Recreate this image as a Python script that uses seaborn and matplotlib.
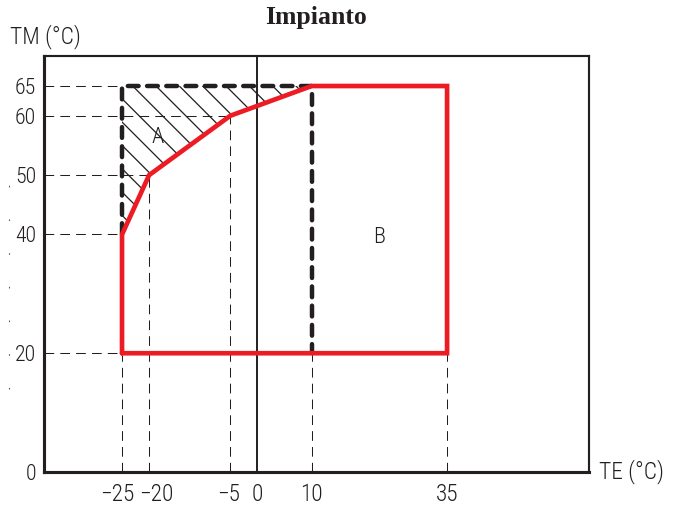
import matplotlib
matplotlib.use("Agg")
import matplotlib.pyplot as plt
from matplotlib.transforms import ScaledTranslation
import seaborn as sns
import pandas as pd

# operating envelope (TE outdoor temp, TM water temp)
te_env = [-25, -25, -20, -5, 10, 35, 35, -25]
tm_env = [20, 40, 50, 60, 65, 65, 20, 20]

# dashed boundary of zone A
te_a = [-25, -25, 10, 10]
tm_a = [40, 65, 65, 20]

# hatched zone A (between dashed boundary and red curve)
te_hatch = [-25, -25, 10, -5, -20]
tm_hatch = [40, 65, 65, 60, 50]

# guide lines
h_guide_tm = [65, 60, 50, 40, 20]
h_guide_te = [-25, -5, -20, -25, -25]
v_guide_te = [-25, -20, -5, 10, 35]
v_guide_tm = [20, 50, 60, 20, 20]

x_ticks = [-25, -20, -5, 0, 10, 35]
x_labels = ["\u221225", "\u221220", "\u22125", "0", "10", "35"]
x_label_shift = [-5, 7, -2, 0, 0, 0]  # px, as placed in the drawing
y_ticks = [0, 20, 40, 50, 60, 65]

BLACK = "#231f20"
RED = "#ed1c24"
DPI = 70  # low dpi so the hatch spacing matches the drawing
SANS = ["Roboto Condensed", "Liberation Sans Narrow", "DejaVu Sans"]

sns.set_theme(style="white")
plt.rcParams["font.family"] = SANS
plt.rcParams["font.weight"] = "light"
plt.rcParams["hatch.linewidth"] = 1.3
plt.rcParams["hatch.color"] = BLACK

fig = plt.figure(figsize=(674.01 / DPI, 508.01 / DPI), dpi=DPI)
ax = fig.add_axes([0.0653, 0.0709, 0.8086, 0.8189])
ax.set_xlim(-39.4, 61.2)
ax.set_ylim(0, 70.06)

# thin dashed guides
for tm, te in zip(h_guide_tm, h_guide_te):
    ax.plot([-39.4, te], [tm, tm], color=BLACK, lw=1.05, ls=(0, (9.5, 6)), zorder=1)
for te, tm in zip(v_guide_te, v_guide_tm):
    ax.plot([te, te], [0, tm], color=BLACK, lw=1.05, ls=(0, (9.5, 6)), zorder=1)

# hatching of zone A
ax.fill(te_hatch, tm_hatch, facecolor="none", edgecolor=BLACK, lw=0, hatch="\\", zorder=2)

# axis at TE = 0
ax.axvline(0, color=BLACK, lw=2.0, zorder=3)

# dashed zone A border
ax.plot(te_a, tm_a, color=BLACK, lw=4.6, ls=(0, (2.4, 1.9)),
        dash_capstyle="round", solid_joinstyle="miter", zorder=4)

# red envelope
env = pd.DataFrame({"TE": te_env, "TM": tm_env})
sns.lineplot(data=env, x="TE", y="TM", sort=False, estimator=None,
             color=RED, lw=4.8, ax=ax, zorder=5)
ax.lines[-1].set_solid_joinstyle("miter")

ax.text(-18.5, 56.3, "A", fontsize=23, color=BLACK, ha="center", va="center", zorder=6)
ax.text(22.5, 39.5, "B", fontsize=23, color=BLACK, ha="center", va="center", zorder=6)

# frame
for side, w in {"left": 3.2, "bottom": 3.2, "top": 2.2, "right": 2.2}.items():
    ax.spines[side].set_visible(True)
    ax.spines[side].set_color(BLACK)
    ax.spines[side].set_linewidth(w)

ax.set_xticks(x_ticks)
ax.set_yticks(y_ticks)
ax.set_xticklabels(x_labels)
ax.set_yticklabels([str(v) for v in y_ticks])
ax.tick_params(axis="both", length=0, colors=BLACK)
ax.tick_params(axis="x", pad=11, labelsize=24)
ax.tick_params(axis="y", pad=8, labelsize=22.5)
for lbl, dx in zip(ax.get_xticklabels(), x_label_shift):
    lbl.set_transform(lbl.get_transform() + ScaledTranslation(dx / DPI, 0, fig.dpi_scale_trans))
ax.set_xlabel("")
ax.set_ylabel("")

# small dotted marks left of the y labels
ax.plot([-0.064, -0.064], [0.20, 0.76], transform=ax.transAxes, clip_on=False,
        color="#555555", lw=1.1, ls=(0, (1.5, 30)))

fig.text(0.015, 0.928, "TM (°C)", fontsize=24, color=BLACK, ha="left", va="center")
fig.text(0.888, 0.071, "TE (°C)", fontsize=24, color=BLACK, ha="left", va="center")
fig.text(0.469, 0.966, "Impianto", fontsize=26.5, fontweight="bold",
         family="Liberation Serif", color=BLACK, ha="center", va="center")

fig.savefig("out.png", dpi=DPI)
